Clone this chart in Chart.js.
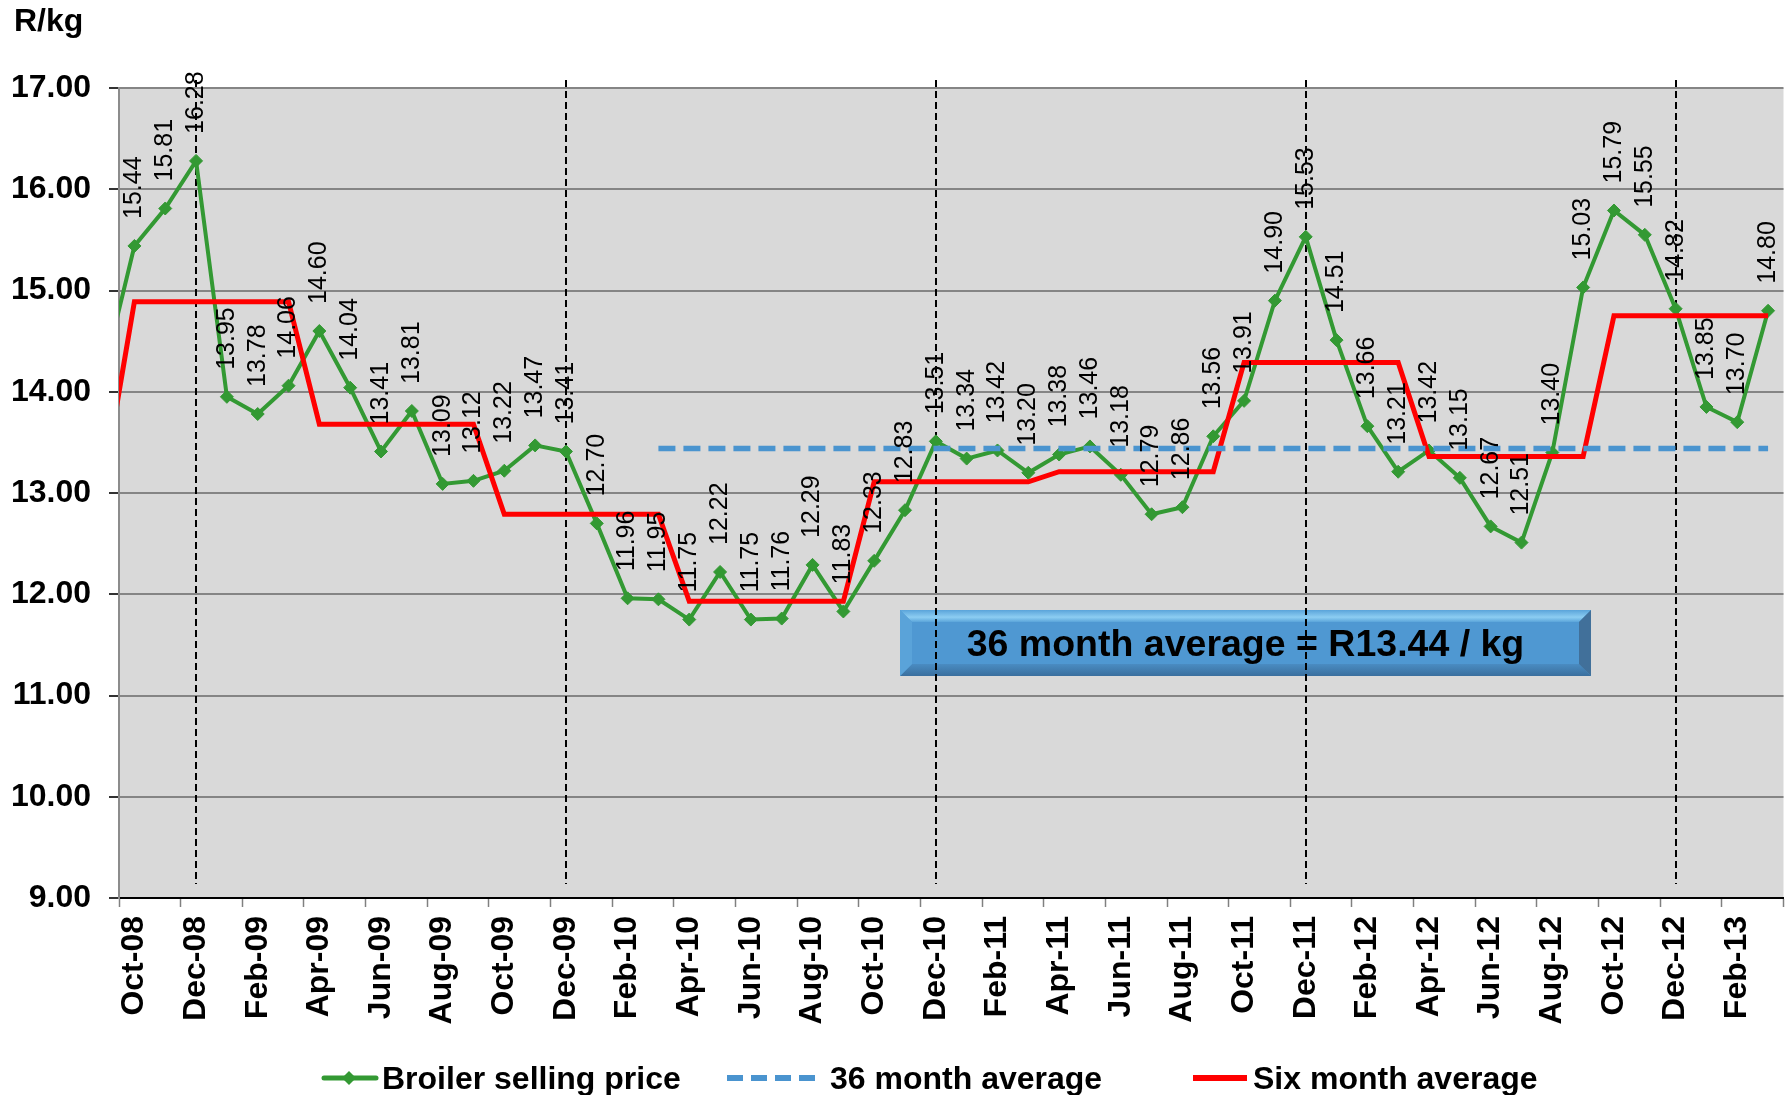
<!DOCTYPE html>
<html lang="en">
<head>
<meta charset="UTF-8" />
<title>Broiler selling price</title>
<script src="https://cdn.jsdelivr.net/npm/chart.js"></script>
<style>
  * { margin: 0; padding: 0; }
  body { background: #fff; width: 1791px; height: 1095px; overflow: hidden; }
  .wrap { position: relative; width: 1791px; height: 1095px; }
</style>
</head>
<body>
<div class="wrap"><canvas id="priceChart"></canvas></div>

<script>
  // Sep-08 sits just left of the plot, only so the lines run in from the edge
  const months = [
    'Sep-08', 'Oct-08', 'Nov-08', 'Dec-08',
    'Jan-09', 'Feb-09', 'Mar-09', 'Apr-09', 'May-09', 'Jun-09', 'Jul-09', 'Aug-09', 'Sep-09', 'Oct-09', 'Nov-09', 'Dec-09',
    'Jan-10', 'Feb-10', 'Mar-10', 'Apr-10', 'May-10', 'Jun-10', 'Jul-10', 'Aug-10', 'Sep-10', 'Oct-10', 'Nov-10', 'Dec-10',
    'Jan-11', 'Feb-11', 'Mar-11', 'Apr-11', 'May-11', 'Jun-11', 'Jul-11', 'Aug-11', 'Sep-11', 'Oct-11', 'Nov-11', 'Dec-11',
    'Jan-12', 'Feb-12', 'Mar-12', 'Apr-12', 'May-12', 'Jun-12', 'Jul-12', 'Aug-12', 'Sep-12', 'Oct-12', 'Nov-12', 'Dec-12',
    'Jan-13', 'Feb-13', 'Mar-13'
  ];

  const broilerPrice = [
    14.18, 15.44, 15.81, 16.28,
    13.95, 13.78, 14.06, 14.60, 14.04, 13.41, 13.81, 13.09, 13.12, 13.22, 13.47, 13.41,
    12.70, 11.96, 11.95, 11.75, 12.22, 11.75, 11.76, 12.29, 11.83, 12.33, 12.83, 13.51,
    13.34, 13.42, 13.20, 13.38, 13.46, 13.18, 12.79, 12.86, 13.56, 13.91, 14.90, 15.53,
    14.51, 13.66, 13.21, 13.42, 13.15, 12.67, 12.51, 13.40, 15.03, 15.79, 15.55, 14.82,
    13.85, 13.70, 14.80
  ];

  const sixMonthAvg = [
    13.10, 14.89, 14.89, 14.89,
    14.89, 14.89, 14.89, 13.68, 13.68, 13.68, 13.68, 13.68, 13.68, 12.79, 12.79, 12.79,
    12.79, 12.79, 12.79, 11.93, 11.93, 11.93, 11.93, 11.93, 11.93, 13.11, 13.11, 13.11,
    13.11, 13.11, 13.11, 13.21, 13.21, 13.21, 13.21, 13.21, 13.21, 14.29, 14.29, 14.29,
    14.29, 14.29, 14.29, 13.36, 13.36, 13.36, 13.36, 13.36, 13.36, 14.75, 14.75, 14.75,
    14.75, 14.75, 14.75
  ];

  const avg36 = 13.44;
  const avg36From = 'Mar-10';
  const avg36To = 'Mar-13';

  const yearMarks = ['Dec-08', 'Dec-09', 'Dec-10', 'Dec-11', 'Dec-12'];

  const GREEN = '#339933';
  const RED = '#ff0000';
  const BLUE = '#4a94cf';
  const FONT = '"Liberation Sans", Arial, sans-serif';

  // tick marks between every second month, labels on the odd (labelled) months
  const xTickValues = [];
  for (let i = 1; i < months.length; i += 2) {
    xTickValues.push(i - 0.5, i);
  }
  xTickValues.push(months.length - 0.5);

  const plotBg = {
    id: 'plotBg',
    beforeDraw(chart) {
      const a = chart.chartArea, ctx = chart.ctx;
      ctx.save();
      ctx.fillStyle = '#d9d9d9';
      ctx.fillRect(a.left, a.top, a.right - a.left, a.bottom - a.top);
      ctx.restore();
    }
  };

  // the "36 month average" note box and the dashed December markers
  const backdrop = {
    id: 'backdrop',
    beforeDatasetsDraw(chart) {
      const ctx = chart.ctx, a = chart.chartArea, xs = chart.scales.x;
      const bx = 900, by = 610, bw = 691, bh = 66, bev = 12;
      ctx.save();
      ctx.fillStyle = '#4f98d2';
      ctx.fillRect(bx, by, bw, bh);
      // bevel edges
      const quad = (pts, fill) => {
        ctx.beginPath();
        ctx.moveTo(pts[0][0], pts[0][1]);
        pts.slice(1).forEach(p => ctx.lineTo(p[0], p[1]));
        ctx.closePath();
        ctx.fillStyle = fill;
        ctx.fill();
      };
      const gTop = ctx.createLinearGradient(0, by, 0, by + bev);
      gTop.addColorStop(0, '#5aa4da');
      gTop.addColorStop(0.6, '#8ccdf2');
      gTop.addColorStop(1, '#5ba5da');
      quad([[bx, by], [bx + bw, by], [bx + bw - bev, by + bev], [bx + bev, by + bev]], gTop);
      const gBot = ctx.createLinearGradient(0, by + bh - bev, 0, by + bh);
      gBot.addColorStop(0, '#4a8cc2');
      gBot.addColorStop(1, '#3a6f9e');
      quad([[bx + bev, by + bh - bev], [bx + bw - bev, by + bh - bev], [bx + bw, by + bh], [bx, by + bh]], gBot);
      quad([[bx, by], [bx + bev, by + bev], [bx + bev, by + bh - bev], [bx, by + bh]], '#5aa3d9');
      quad([[bx + bw, by], [bx + bw, by + bh], [bx + bw - bev, by + bh - bev], [bx + bw - bev, by + bev]], '#41709a');
      ctx.fillStyle = '#000';
      ctx.font = 'bold 37.5px ' + FONT;
      ctx.textAlign = 'center';
      ctx.textBaseline = 'alphabetic';
      ctx.fillText('36 month average = R13.44 / kg', bx + bw / 2, by + 46);

      ctx.strokeStyle = '#000';
      ctx.lineWidth = 2;
      ctx.setLineDash([7, 4]);
      yearMarks.forEach(m => {
        const x = Math.round(xs.getPixelForValue(months.indexOf(m)));
        ctx.beginPath();
        ctx.moveTo(x, a.top - 8);
        ctx.lineTo(x, a.bottom - 14);
        ctx.stroke();
      });
      ctx.restore();
    }
  };

  const valueLabels = {
    id: 'valueLabels',
    afterDatasetsDraw(chart) {
      const ctx = chart.ctx, a = chart.chartArea;
      const idx = chart.data.datasets.findIndex(d => d.label === 'Broiler selling price');
      const meta = chart.getDatasetMeta(idx);
      ctx.save();
      ctx.font = '25px ' + FONT;
      ctx.fillStyle = '#000';
      ctx.textAlign = 'left';
      ctx.textBaseline = 'middle';
      meta.data.forEach((pt, i) => {
        if (pt.x < a.left || pt.x > a.right) return;
        ctx.save();
        ctx.translate(pt.x, pt.y - 27);
        ctx.rotate(-Math.PI / 2);
        ctx.fillText(broilerPrice[i].toFixed(2), 0, 0);
        ctx.restore();
      });
      ctx.restore();
    }
  };

  const titleAndLegend = {
    id: 'titleAndLegend',
    afterDraw(chart) {
      const ctx = chart.ctx;
      ctx.save();
      ctx.fillStyle = '#000';
      ctx.font = 'bold 32px ' + FONT;
      ctx.textAlign = 'left';
      ctx.textBaseline = 'alphabetic';
      ctx.fillText('R/kg', 14, 31);

      const ly = 1078;
      ctx.lineCap = 'round';
      // Broiler selling price
      ctx.strokeStyle = GREEN;
      ctx.lineWidth = 5;
      ctx.beginPath(); ctx.moveTo(324, ly); ctx.lineTo(376, ly); ctx.stroke();
      ctx.fillStyle = GREEN;
      ctx.beginPath();
      ctx.moveTo(349 - 7, ly); ctx.lineTo(349, ly - 7); ctx.lineTo(349 + 7, ly); ctx.lineTo(349, ly + 7);
      ctx.closePath(); ctx.fill();
      // 36 month average
      ctx.lineCap = 'butt';
      ctx.strokeStyle = BLUE;
      ctx.lineWidth = 6;
      ctx.setLineDash([16, 8]);
      ctx.beginPath(); ctx.moveTo(727, ly); ctx.lineTo(820, ly); ctx.stroke();
      ctx.setLineDash([]);
      // Six month average
      ctx.strokeStyle = RED;
      ctx.lineWidth = 6;
      ctx.beginPath(); ctx.moveTo(1193, ly); ctx.lineTo(1247, ly); ctx.stroke();

      ctx.fillStyle = '#000';
      ctx.fillText('Broiler selling price', 382, ly + 11);
      ctx.fillText('36 month average', 830, ly + 11);
      ctx.fillText('Six month average', 1253, ly + 11);
      ctx.restore();
    }
  };

  const ctx = document.getElementById('priceChart').getContext('2d');
  const priceChart = new Chart(ctx, {
    type: 'line',
    data: {
      labels: months.map((m, i) => i),
      datasets: [
        {
          label: '36 month average',
          data: [
            { x: months.indexOf(avg36From), y: avg36 },
            { x: months.indexOf(avg36To), y: avg36 }
          ],
          borderColor: BLUE,
          borderWidth: 5.5,
          borderDash: [17, 8],
          pointRadius: 0,
          fill: false
        },
        {
          label: 'Six month average',
          data: sixMonthAvg,
          borderColor: RED,
          borderWidth: 5,
          pointRadius: 0,
          tension: 0,
          fill: false
        },
        {
          label: 'Broiler selling price',
          data: broilerPrice,
          borderColor: GREEN,
          borderWidth: 4,
          pointStyle: 'rectRot',
          pointRadius: 6.5,
          pointBackgroundColor: GREEN,
          pointBorderColor: GREEN,
          pointBorderWidth: 1,
          tension: 0,
          fill: false
        }
      ]
    },
    options: {
      responsive: true,
      maintainAspectRatio: false,
      animation: false,
      devicePixelRatio: 1,
      layout: { padding: { top: 88, right: 7, left: 0, bottom: 0 } },
      plugins: {
        legend: { display: false },
        tooltip: { enabled: false }
      },
      scales: {
        x: {
          type: 'linear',
          min: 0.5,
          max: months.length - 0.5,
          afterBuildTicks: s => { s.ticks = xTickValues.map(v => ({ value: v })); },
          afterFit: s => { s.height = 197; s.paddingLeft = 0; s.paddingRight = 0; },
          grid: {
            drawOnChartArea: false,
            tickLength: 9,
            tickWidth: 1.5,
            tickColor: c => (Number.isInteger(c.tick && c.tick.value) ? 'rgba(0,0,0,0)' : '#808080')
          },
          border: { color: '#000', width: 2 },
          ticks: {
            autoSkip: false,
            minRotation: 90,
            maxRotation: 90,
            padding: 9,
            color: '#000',
            font: { family: FONT, size: 32, weight: 'bold' },
            callback: v => (Number.isInteger(v) && v % 2 === 1 ? months[v] : '')
          }
        },
        y: {
          min: 9,
          max: 17,
          afterFit: s => { s.width = 119; },
          grid: { color: '#858585', lineWidth: 2, tickLength: 10, tickColor: '#333' },
          border: { color: '#8c8c8c', width: 2 },
          ticks: {
            stepSize: 1,
            padding: 18,
            color: '#000',
            font: { family: FONT, size: 32, weight: 'bold' },
            callback: v => v.toFixed(2)
          }
        }
      }
    },
    plugins: [plotBg, backdrop, valueLabels, titleAndLegend]
  });
</script>
</body>
</html>
